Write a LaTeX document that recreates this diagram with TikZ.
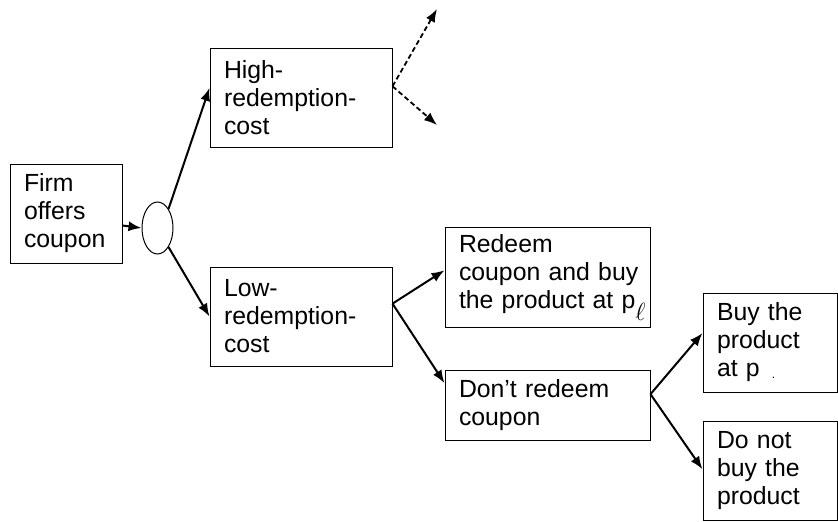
\documentclass[tikz,border=0pt]{standalone}
\usepackage{fontspec}
\setmainfont{Liberation Sans}
\usepackage{tikz}
\usetikzlibrary{shapes.geometric,arrows.meta}

\begin{document}
\begin{tikzpicture}[>={Latex[length=13pt,width=10pt]}, x=1pt, y=-1pt]

                \tikzset{% This is the style settings for nodes
                    box/.style={rectangle,draw,line width=1pt,align=left,text width=#1,
                                        inner xsep=14pt,inner ysep=2pt,
                                        font=\fontsize{24.8}{28}\selectfont},
                    chance/.style={ellipse,draw,line width=1pt,minimum width=31pt,
                                        minimum height=52pt,inner sep=0pt},
                    branch/.style={->,line width=2pt},
                    later/.style={->,line width=1.8pt,dash pattern=on 5pt off 3pt}}

                    \useasboundingbox (0,0) rectangle (838,522);

                    \node [box=84pt,minimum height=99pt](firm) at (66,213.5) {Firm\\offers\\coupon};
                    \node [chance](c_1) at (157.5,228) {};
                    \node [box=154pt,minimum height=99pt](high) at (301,97.5) {High-\\redemption-\\cost};
                    \node [box=154pt,minimum height=99pt](low) at (301,316.5) {Low-\\redemption-\\cost};
                    \node [box=177pt,minimum height=100pt](redeem) at (547.5,277.5) {Redeem\\\mbox{coupon and buy}\\\mbox{the product at p\raisebox{-12pt}{$\ell$}}};
                    \node [box=177pt,minimum height=70pt](keep) at (547.5,405) {Don’t redeem\\coupon};
                    \node [box=106pt,minimum height=99pt](buy) at (770,342.5) {Buy the\\product\\at p\hspace{12pt}\raisebox{-2pt}{\fontsize{12}{12}\selectfont .}};
                    \node [box=106pt,minimum height=99pt](nobuy) at (770,470.5) {Do not\\buy the\\product};

                    \coordinate (h_up) at (437,9);
                    \coordinate (h_down) at (437,125);

                    \draw [branch] (firm.-12) -- (c_1.west);
                    \draw [branch] (c_1.60) -- (high.174);
                    \draw [branch] (c_1.-60) -- (low.west);

                    \draw [later] (high.7) -- (h_up);
                    \draw [later] (high.7) -- (h_down);

                    \draw [branch] (low.8) -- (redeem.176);
                    \draw [branch] (low.8) -- (keep.168);

                    \draw [branch] (keep.6) -- (buy.172);
                    \draw [branch] (keep.6) -- (nobuy.179);

            \end{tikzpicture}
\end{document}
